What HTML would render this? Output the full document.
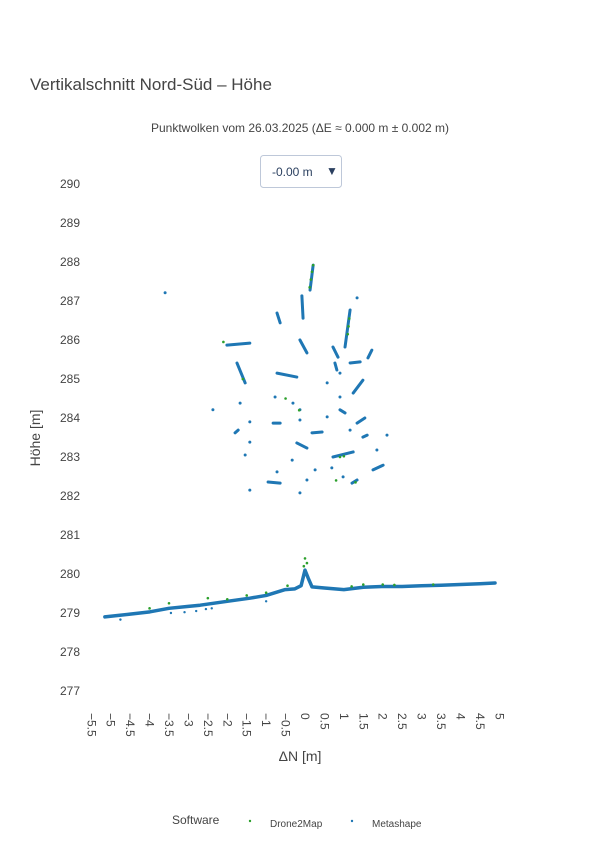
<!DOCTYPE html>
<html><head><meta charset="utf-8">
<style>
body{margin:0;background:#fff;font-family:"Liberation Sans",sans-serif;}
svg text{font-family:"Liberation Sans",sans-serif;}
</style></head>
<body>
<svg id="chart" width="600" height="850" xmlns="http://www.w3.org/2000/svg">
<text x="30" y="90" font-size="17" fill="#444">Vertikalschnitt Nord-Süd – Höhe</text>
<text x="300" y="132" font-size="12" fill="#444" text-anchor="middle">Punktwolken vom 26.03.2025 (ΔE ≈ 0.000 m ± 0.002 m)</text>
<g>
<rect x="260.5" y="155.5" width="81" height="32" rx="3" fill="#fff" stroke="#bec8d9"/>
<text x="272" y="176" font-size="12" fill="#2a3f5f">-0.00 m</text>
<text x="326" y="175" font-size="12" fill="#2a3f5f">▼</text>
</g>
<g id="yticks"></g>
<g id="xticks"></g>
<g id="marks"></g>
<text transform="translate(40,438) rotate(-90)" font-size="14" fill="#444" text-anchor="middle">Höhe [m]</text>
<text x="300" y="761" font-size="14" fill="#444" text-anchor="middle">ΔN [m]</text>
<g>
<text x="172" y="824" font-size="12" fill="#444">Software</text>
<g><circle cx="250" cy="821" r="1.2" fill="#2ca02c"/><text x="270" y="827" font-size="10" fill="#444">Drone2Map</text></g>
<g><circle cx="352" cy="821" r="1.2" fill="#1f77b4"/><text x="372" y="827" font-size="10" fill="#444">Metashape</text></g>
</g>
</svg>
<script>
const yTickVals=[277,278,279,280,281,282,283,284,285,286,287,288,289,290];
const xTickVals=[-5.5,-5,-4.5,-4,-3.5,-3,-2.5,-2,-1.5,-1,-0.5,0,0.5,1,1.5,2,2.5,3,3.5,4,4.5,5];
const groundX=[-5.15,-4.5,-3.99,-3.5,-3.0,-2.7,-2.0,-1.42,-1.0,-0.51,-0.26,-0.1,0,0.08,0.18,0.5,1.0,1.5,2.0,2.5,3.0,3.5,4.0,4.5,4.89];
const groundY=[278.9,278.97,279.03,279.12,279.17,279.2,279.3,279.38,279.45,279.6,279.62,279.7,280.1,279.9,279.67,279.64,279.6,279.66,279.68,279.68,279.7,279.71,279.73,279.75,279.77];
const outlierX=[-4.75,-3.45,-3.1,-2.8,-2.55,-2.4,-1.0];
const outlierY=[278.83,279.0,279.02,279.05,279.1,279.12,279.3];
const treeX1=[0.13,-3.60,-0.08,-0.72,1.34,1.16,-2.01,-1.75,-0.13,-0.72,0.72,0.77,1.16,1.72,0.90,1.24,0.90,0.57,-0.77,-1.67,-2.37,-0.13,-0.31,0.90,0.57,-0.13,-0.82,-1.42,-1.80,-1.42,0.18,1.34,1.16,2.11,1.49,0.72,1.85,-0.21,-1.54,-0.33,0.26,0.69,0.98,1.21,1.75,-0.95,-1.42,-0.13,0.05,-0.72];
const treeY1=[287.28,287.21,287.13,286.69,287.08,286.77,285.87,285.41,286.0,285.15,285.82,285.41,285.41,285.74,285.15,284.64,284.54,284.90,284.54,284.38,284.21,284.21,284.38,284.21,284.03,283.95,283.87,283.90,283.62,283.38,283.62,283.87,283.69,283.56,283.51,283.0,283.18,283.36,283.05,282.92,282.67,282.72,282.49,282.33,282.67,282.36,282.15,282.08,282.41,282.62];
const treeX2=[0.21,-3.60,-0.05,-0.64,1.34,1.03,-1.42,-1.54,0.05,-0.21,0.85,0.82,1.42,1.62,0.90,1.49,0.90,0.57,-0.77,-1.67,-2.37,-0.13,-0.31,1.03,0.57,-0.13,-0.64,-1.42,-1.72,-1.42,0.44,1.54,1.16,2.11,1.60,1.24,1.85,0.05,-1.54,-0.33,0.26,0.69,0.98,1.34,2.01,-0.64,-1.42,-0.13,0.05,-0.72];
const treeY2=[287.92,287.21,286.56,286.44,287.08,285.82,285.92,284.90,285.67,285.05,285.56,285.23,285.44,285.54,285.15,284.97,284.54,284.90,284.54,284.38,284.21,284.21,284.38,284.13,284.03,283.95,283.87,283.90,283.69,283.38,283.64,284.0,283.69,283.56,283.56,283.13,283.18,283.23,283.05,282.92,282.67,282.72,282.49,282.41,282.79,282.33,282.15,282.08,282.41,282.62];
const greenX=[0.21,0.18,0.15,0.12,1.14,1.12,1.10,0.90,1.00,-0.15,0.80,-2.1,-1.6,-0.5,1.3,-3.5,-2.5,-4.0,0,0.05,-0.03,1.5,2.0,2.3,3.3,-1.0,-0.45,-2.0,-1.5,1.2];
const greenY=[287.92,287.75,287.55,287.35,286.55,286.35,286.15,283.0,283.02,284.2,282.4,285.95,285.0,284.5,282.35,279.25,279.38,279.12,280.4,280.28,280.2,279.73,279.73,279.72,279.73,279.52,279.7,279.35,279.45,279.68];

const xs=v=>305+v*38.86;
const ys=v=>184+(290-v)*39;
const NS='http://www.w3.org/2000/svg';
function mk(tag,attrs,parent){const e=document.createElementNS(NS,tag);for(const k in attrs)e.setAttribute(k,attrs[k]);parent.appendChild(e);return e;}
const yt=document.getElementById('yticks');
yTickVals.forEach(v=>{const t=mk('text',{x:80,y:ys(v)+4,'font-size':12,fill:'#444','text-anchor':'end'},yt);


t.textContent=v;});
const xt=document.getElementById('xticks');
xTickVals.forEach(v=>{const t=mk('text',{transform:`translate(${xs(v)-4},713) rotate(90)`,'font-size':12,fill:'#444'},xt);


t.textContent=v<0?'\u2212'+Math.abs(v):String(v);});
const m=document.getElementById('marks');
const gp=mk('polyline',{points:groundX.map((x,i)=>xs(x)+','+ys(groundY[i])).join(' '),fill:'none',stroke:'#1f77b4','stroke-width':3.5,'stroke-linejoin':'round','stroke-linecap':'round'},m);


outlierX.forEach((x,i)=>{const c=mk('circle',{cx:xs(x),cy:ys(outlierY[i]),r:1.2,fill:'#1f77b4'},m);

});
treeX1.forEach((x,i)=>{const l=mk('line',{x1:xs(x),y1:ys(treeY1[i]),x2:xs(treeX2[i]),y2:ys(treeY2[i]),stroke:'#1f77b4','stroke-width':3,'stroke-linecap':'round'},m);

});
greenX.forEach((x,i)=>{const c=mk('circle',{cx:xs(x),cy:ys(greenY[i]),r:1.3,fill:'#2ca02c'},m);

});
</script>
</body></html>
